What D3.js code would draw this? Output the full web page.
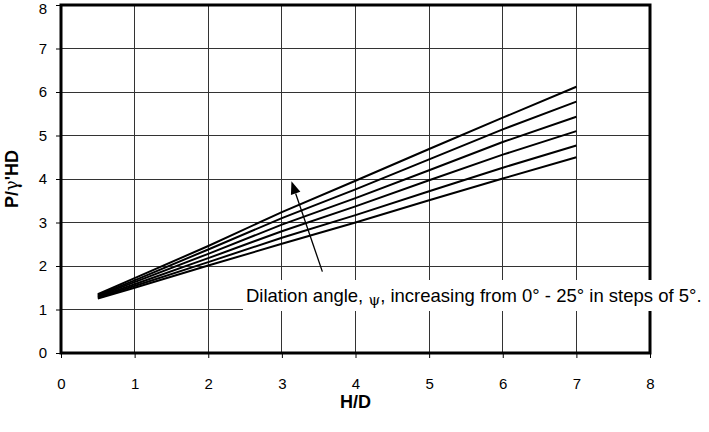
<!DOCTYPE html>
<html><head><meta charset="utf-8">
<script src="https://cdn.jsdelivr.net/npm/d3@7"></script>
<style>body{margin:0;background:#fff}svg{display:block}text{font-family:"Liberation Sans",Arial,sans-serif}</style>
</head><body><svg id="c" width="709" height="432"></svg>
<script>
const hd = [0.5, 1, 2, 3, 4, 5, 6, 7];
const psi = [0, 5, 10, 15, 20, 25];
const s0  = [1.25, 1.50, 2.01, 2.51, 3.00, 3.51, 4.01, 4.50];
const s5  = [1.27, 1.54, 2.09, 2.65, 3.17, 3.72, 4.26, 4.77];
const s10 = [1.29, 1.58, 2.18, 2.80, 3.37, 3.97, 4.56, 5.10];
const s15 = [1.31, 1.63, 2.28, 2.95, 3.56, 4.20, 4.85, 5.43];
const s20 = [1.33, 1.67, 2.38, 3.10, 3.76, 4.45, 5.14, 5.78];
const s25 = [1.35, 1.72, 2.46, 3.24, 3.96, 4.69, 5.41, 6.12];
const series = [s0, s5, s10, s15, s20, s25];
const xTicks = [0, 1, 2, 3, 4, 5, 6, 7, 8];
const yTicks = [0, 1, 2, 3, 4, 5, 6, 7, 8];
const xTitle = "H/D";
const annot = "Dilation angle, ";

const svg = d3.select("#c");
const L = 61, R = 650, T = 5, B = 353;
const x = d3.scaleLinear().domain([0, 8]).range([L, R]);
const y = d3.scaleLinear().domain([0, 8]).range([B, T]);

// grid
svg.append("g").selectAll("line").data(xTicks.slice(1, -1)).join("line")
  .attr("x1", d => x(d)).attr("x2", d => x(d)).attr("y1", T).attr("y2", B)
  .attr("stroke", "#333").attr("stroke-width", 1).attr("shape-rendering", "crispEdges");
svg.append("g").selectAll("line").data(yTicks.slice(1, -1)).join("line")
  .attr("y1", d => y(d)).attr("y2", d => y(d)).attr("x1", L).attr("x2", R)
  .attr("stroke", "#333").attr("stroke-width", 1).attr("shape-rendering", "crispEdges");

// axes
const xa = svg.append("g").attr("transform", `translate(0,${B})`)
  .call(d3.axisBottom(x).tickValues(xTicks).tickSize(5).tickPadding(20).tickFormat(d3.format("d")));
const ya = svg.append("g").attr("transform", `translate(${L},0)`)
  .call(d3.axisLeft(y).tickValues(yTicks).tickSize(5).tickPadding(9).tickFormat(d3.format("d")));
[xa, ya].forEach(a => {
  a.select(".domain").remove();
  a.selectAll("text").attr("font-size", 15).attr("fill", "#000")
    .attr("font-family", "'Liberation Sans',Arial,sans-serif");
  a.selectAll("line").attr("stroke", "#000");
});
ya.selectAll("text").filter(d => d === 8).attr("dy", "0.58em");

// lines
const line = d3.line().x((d, i) => x(hd[i])).y(d => y(d));
svg.append("g").selectAll("path").data(series).join("path")
  .attr("d", d => line(d)).attr("fill", "none").attr("stroke", "#000").attr("stroke-width", 2);

// frame
svg.append("rect").attr("x", L).attr("y", T).attr("width", R - L).attr("height", B - T)
  .attr("fill", "none").attr("stroke", "#000").attr("stroke-width", 3);

// annotation box
svg.append("rect").attr("x", 243).attr("y", 280).attr("width", 466).attr("height", 31).attr("fill", "#fff");
const t = svg.append("text").attr("x", 246).attr("y", 302).attr("font-size", 18.5).attr("fill", "#000");
t.append("tspan").text(annot);
t.append("tspan").attr("font-family", "'DejaVu Serif',serif").attr("font-size", 15).attr("dy", 3).text("ψ");
t.append("tspan").attr("dy", -3).text(`, increasing from ${psi[0]}° - ${psi[psi.length-1]}° in steps of ${psi[1]-psi[0]}°.`);

// arrow
const ax1 = x(3.55), ay1 = y(1.87), ax2 = x(3.13), ay2 = y(3.95);
const ang = Math.atan2(ay2 - ay1, ax2 - ax1);
const hl = 13, hw = 5;
const bx = ax2 - hl * Math.cos(ang), by = ay2 - hl * Math.sin(ang);
svg.append("line").attr("x1", ax1).attr("y1", ay1).attr("x2", bx).attr("y2", by)
  .attr("stroke", "#000").attr("stroke-width", 1.3);
svg.append("path").attr("d", `M${ax2},${ay2}L${bx + hw*Math.sin(ang)},${by - hw*Math.cos(ang)}L${bx - hw*Math.sin(ang)},${by + hw*Math.cos(ang)}Z`)
  .attr("fill", "#000");

// titles
svg.append("text").attr("x", x(4)).attr("y", 408).attr("text-anchor", "middle")
  .attr("font-size", 18).attr("font-weight", "bold").text(xTitle);
const yt = svg.append("text").attr("transform", `translate(18,${(T + B) / 2}) rotate(-90)`)
  .attr("text-anchor", "middle").attr("font-size", 18).attr("font-weight", "bold");
yt.append("tspan").text("P/");
yt.append("tspan").attr("font-family", "'DejaVu Serif',serif").attr("font-weight", "normal").text("γ");
yt.append("tspan").text("'HD");
</script></body></html>
